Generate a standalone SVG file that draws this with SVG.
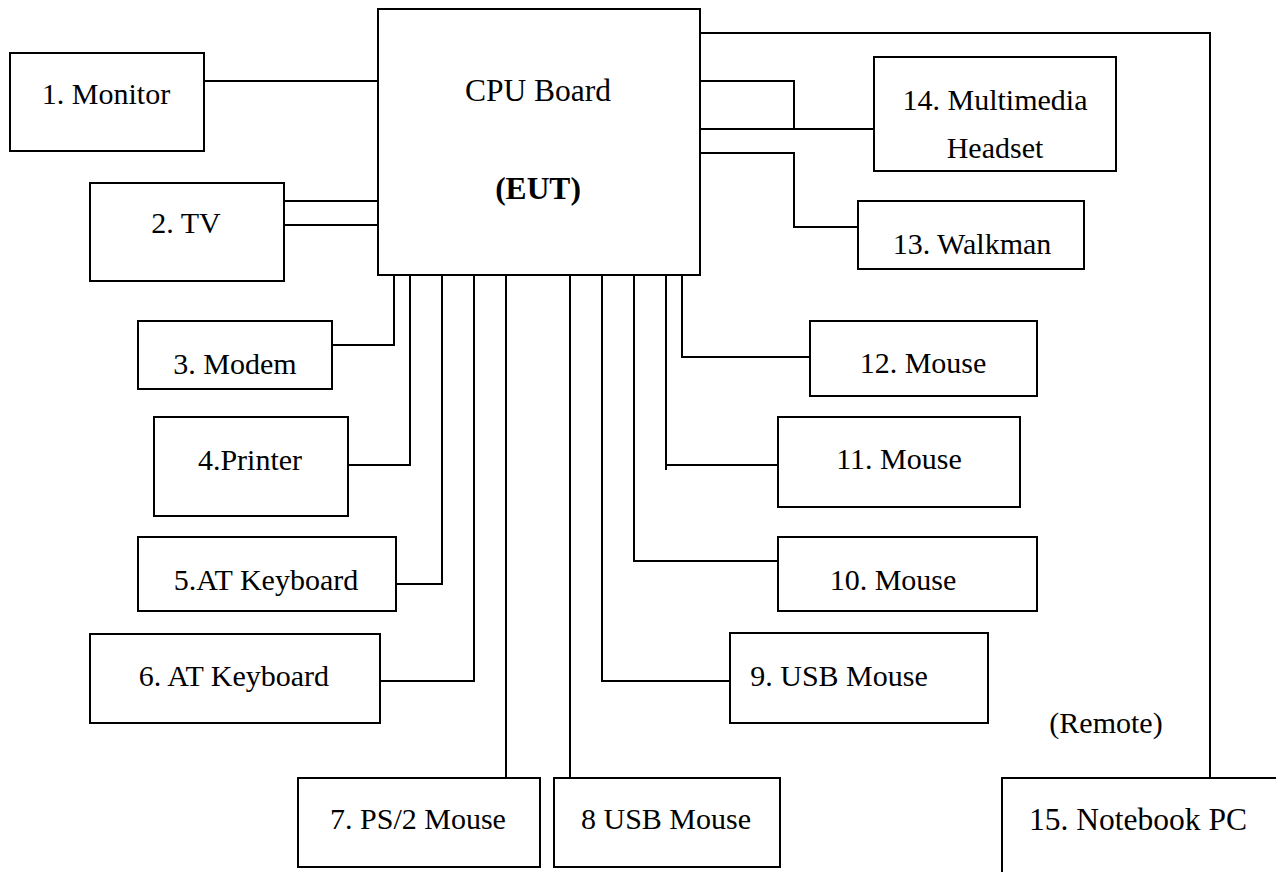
<svg xmlns="http://www.w3.org/2000/svg" width="1276" height="872" viewBox="0 0 1276 872">
<style>
rect.box{fill:#fff;stroke:#000;stroke-width:2}
#connectors path{fill:none;stroke:#000;stroke-width:2}
text{font-family:"Liberation Serif","Times New Roman",serif;font-size:30px;fill:#000;text-anchor:middle}
.b{font-weight:bold}
.l{font-size:31.5px}
</style>
<rect width="1276" height="872" fill="#fff"/>
<g id="connectors">
<path d="M202,81 H378"/>
<path d="M282,201 H378"/>
<path d="M284,225 H378"/>
<path d="M394,275 V345 H330"/>
<path d="M410,275 V465 H346"/>
<path d="M442,275 V584 H394"/>
<path d="M474,275 V681 H378"/>
<path d="M506,275 V778"/>
<path d="M570,275 V778"/>
<path d="M602,275 V681 H730"/>
<path d="M634,275 V561 H778"/>
<path d="M666,275 V470 M666,465 H778"/>
<path d="M682,275 V357 H810"/>
<path d="M698,81 H794 V129"/>
<path d="M698,129 H874"/>
<path d="M698,153 H794 V227 H858"/>
<path d="M698,33 H1210 V778"/>
</g>
<g id="cpu"><rect class="box" x="378" y="9" width="322" height="266"/><text class="l" x="538" y="101">CPU Board</text><text class="b l" x="538" y="199">(EUT)</text></g>
<g id="n1"><rect class="box" x="10" y="53" width="194" height="98"/><text x="106" y="104">1. Monitor</text></g>
<g id="n2"><rect class="box" x="90" y="183" width="194" height="98"/><text x="186" y="233">2. TV</text></g>
<g id="n3"><rect class="box" x="138" y="321" width="194" height="68"/><text x="235" y="374">3. Modem</text></g>
<g id="n4"><rect class="box" x="154" y="417" width="194" height="99"/><text x="250" y="470">4.Printer</text></g>
<g id="n5"><rect class="box" x="138" y="537" width="258" height="74"/><text x="266" y="590">5.AT Keyboard</text></g>
<g id="n6"><rect class="box" x="90" y="634" width="290" height="89"/><text x="234" y="686">6. AT Keyboard</text></g>
<g id="n7"><rect class="box" x="298" y="778" width="242" height="89"/><text x="418" y="829">7. PS/2 Mouse</text></g>
<g id="n8"><rect class="box" x="554" y="778" width="226" height="89"/><text x="666" y="829">8 USB Mouse</text></g>
<g id="n9"><rect class="box" x="730" y="633" width="258" height="90"/><text x="839" y="686">9. USB Mouse</text></g>
<g id="n10"><rect class="box" x="778" y="537" width="259" height="74"/><text x="893" y="590">10. Mouse</text></g>
<g id="n11"><rect class="box" x="778" y="417" width="242" height="90"/><text x="899" y="469">11. Mouse</text></g>
<g id="n12"><rect class="box" x="810" y="321" width="227" height="75"/><text x="923" y="373">12. Mouse</text></g>
<g id="n13"><rect class="box" x="858" y="201" width="226" height="68"/><text x="972" y="254">13. Walkman</text></g>
<g id="n14"><rect class="box" x="874" y="57" width="242" height="114"/><text x="995" y="110">14. Multimedia</text><text x="995" y="158">Headset</text></g>
<g id="n15"><rect class="box" x="1002" y="778" width="300" height="120"/><text class="l" x="1138" y="830">15. Notebook PC</text></g>
<text x="1106" y="733">(Remote)</text>
</svg>
